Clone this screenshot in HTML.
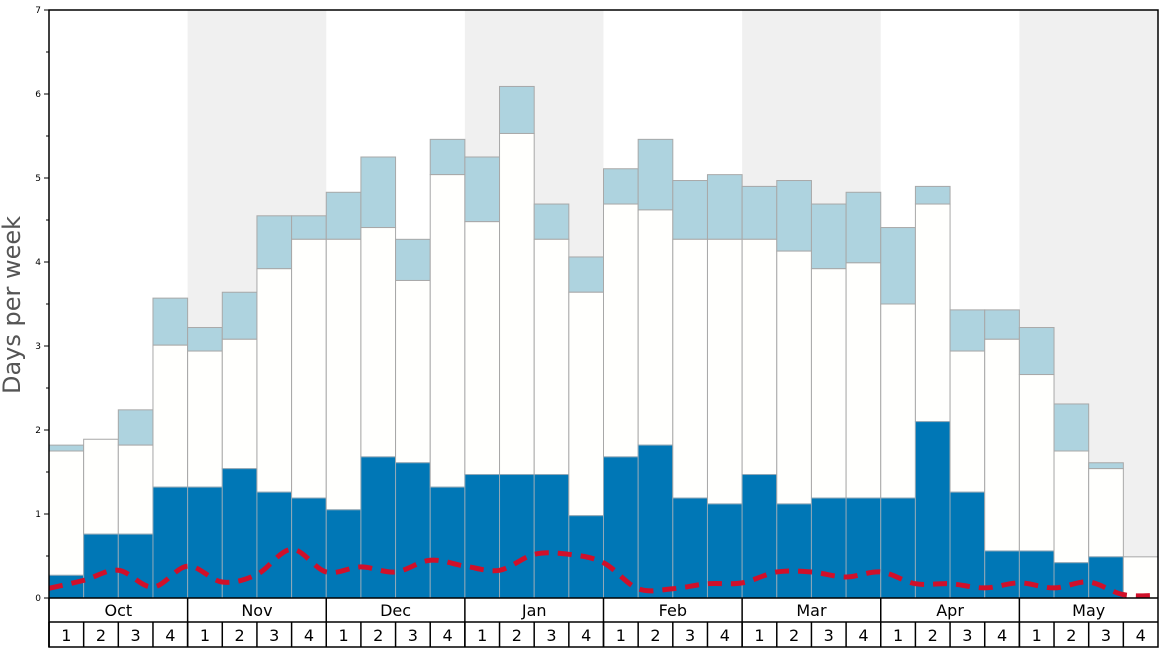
<!DOCTYPE html>
<html><head><meta charset="utf-8"><style>
body{margin:0;background:#fff;}
svg{display:block;font-family:"DejaVu Sans","Liberation Sans",sans-serif;}
</style></head><body>
<svg id="chart" width="1168" height="648" viewBox="0 0 1168 648" xmlns="http://www.w3.org/2000/svg">
<g id="bands"></g><g id="bars"></g><g id="line"></g><g id="axes"></g>
<text x="0" y="0" transform="translate(20,305) rotate(-90)" text-anchor="middle" font-size="24" fill="#555">Days per week</text>
</svg>
<script>
const months = ["Oct","Nov","Dec","Jan","Feb","Mar","Apr","May"];
const weekLabels = ["1","2","3","4"];
const yTicks = [0,1,2,3,4,5,6,7];
const blueVals = [0.27,0.76,0.76,1.32,1.32,1.54,1.26,1.19,1.05,1.68,1.61,1.32,1.47,1.47,1.47,0.98,1.68,1.82,1.19,1.12,1.47,1.12,1.19,1.19,1.19,2.10,1.26,0.56,0.56,0.42,0.49,0];
const whiteTops = [1.75,1.89,1.82,3.01,2.94,3.08,3.92,4.27,4.27,4.41,3.78,5.04,4.48,5.53,4.27,3.64,4.69,4.62,4.27,4.27,4.27,4.13,3.92,3.99,3.50,4.69,2.94,3.08,2.66,1.75,1.54,0.49];
const lightTops = [1.82,1.89,2.24,3.57,3.22,3.64,4.55,4.55,4.83,5.25,4.27,5.46,5.25,6.09,4.69,4.06,5.11,5.46,4.97,5.04,4.90,4.97,4.69,4.83,4.41,4.90,3.43,3.43,3.22,2.31,1.61,0.49];
const lineVals = [0.115,0.21,0.33,0.13,0.38,0.19,0.28,0.58,0.31,0.37,0.31,0.45,0.38,0.33,0.52,0.52,0.42,0.11,0.11,0.17,0.18,0.31,0.31,0.25,0.31,0.17,0.17,0.12,0.18,0.12,0.19,0.04,0.03];

const NS="http://www.w3.org/2000/svg";
const L=49,R=1158,T=10,B=598,N=32,W=(R-L)/N;
const x=i=>L+i*W;
const y=v=>B-v*(B-T)/7;
function mk(p,tag,a){const e=document.createElementNS(NS,tag);for(const k in a)e.setAttribute(k,a[k]);p.appendChild(e);return e;}
const bands=document.getElementById('bands'),bars=document.getElementById('bars'),line=document.getElementById('line'),axes=document.getElementById('axes');
months.forEach((m,i)=>{if(i%2==1){const r=mk(bands,'rect',{x:x(i*4),y:T,width:4*W,height:B-T,fill:'#f0f0f0'});

}});
for(let i=0;i<N;i++){
 const b=blueVals[i],w=whiteTops[i],l=lightTops[i];
 if(l>w){const r=mk(bars,'rect',{x:x(i),y:y(l),width:W,height:y(w)-y(l),fill:'#aed3df',stroke:'#a8a8a8','stroke-width':1});
 
 }
 if(w>b){const r=mk(bars,'rect',{x:x(i),y:y(w),width:W,height:y(b)-y(w),fill:'#fffffd',stroke:'#a8a8a8','stroke-width':1});
 
 }
 if(b>0){const r=mk(bars,'rect',{x:x(i),y:y(b),width:W,height:y(0)-y(b),fill:'#0077b6',stroke:'#8fa8b8','stroke-width':1});
 
 }
}
// smooth line
const pts=lineVals.map((v,i)=>[x(i),y(v)]);
let d='M'+pts[0][0]+','+pts[0][1];
for(let i=0;i<pts.length-1;i++){const p0=pts[Math.max(0,i-1)],p1=pts[i],p2=pts[i+1],p3=pts[Math.min(pts.length-1,i+2)];
 d+=' C'+(p1[0]+(p2[0]-p0[0])/6)+','+(p1[1]+(p2[1]-p0[1])/6)+' '+(p2[0]-(p3[0]-p1[0])/6)+','+(p2[1]-(p3[1]-p1[1])/6)+' '+p2[0]+','+p2[1];}
const pl=mk(line,'path',{d:d,fill:'none',stroke:'#d0102a','stroke-width':5,'stroke-dasharray':'14 9'});


// frame
const fr=mk(axes,'rect',{x:L,y:T,width:R-L,height:647-T,fill:'none',stroke:'#000','stroke-width':1.5});


mk(axes,'line',{x1:L,x2:R,y1:B,y2:B,stroke:'#000','stroke-width':1.5});
mk(axes,'line',{x1:L,x2:R,y1:622,y2:622,stroke:'#000','stroke-width':1.5});
yTicks.forEach(v=>{mk(axes,'line',{x1:L-5,x2:L,y1:y(v),y2:y(v),stroke:'#000'});
 if(v<7)mk(axes,'line',{x1:L-3,x2:L,y1:y(v+0.5),y2:y(v+0.5),stroke:'#000'});
 const t=mk(axes,'text',{x:L-8,y:y(v)+3,'font-size':9,'text-anchor':'end',fill:'#000'});t.textContent=v;
 
 });
months.forEach((m,i)=>{mk(axes,'line',{x1:x(i*4),x2:x(i*4),y1:B,y2:647,stroke:'#000','stroke-width':1.5});
 const t=mk(axes,'text',{x:x(i*4)+2*W,y:616,'font-size':16,'text-anchor':'middle',fill:'#000'});t.textContent=m;
 
 
 weekLabels.forEach((w,j)=>{const k=i*4+j;mk(axes,'line',{x1:x(k),x2:x(k),y1:622,y2:647,stroke:'#000','stroke-width':1.5});
 const s=mk(axes,'text',{x:x(k)+W/2,y:641,'font-size':16,'text-anchor':'middle',fill:'#000'});s.textContent=w;
 
 });});
</script>
</body></html>
